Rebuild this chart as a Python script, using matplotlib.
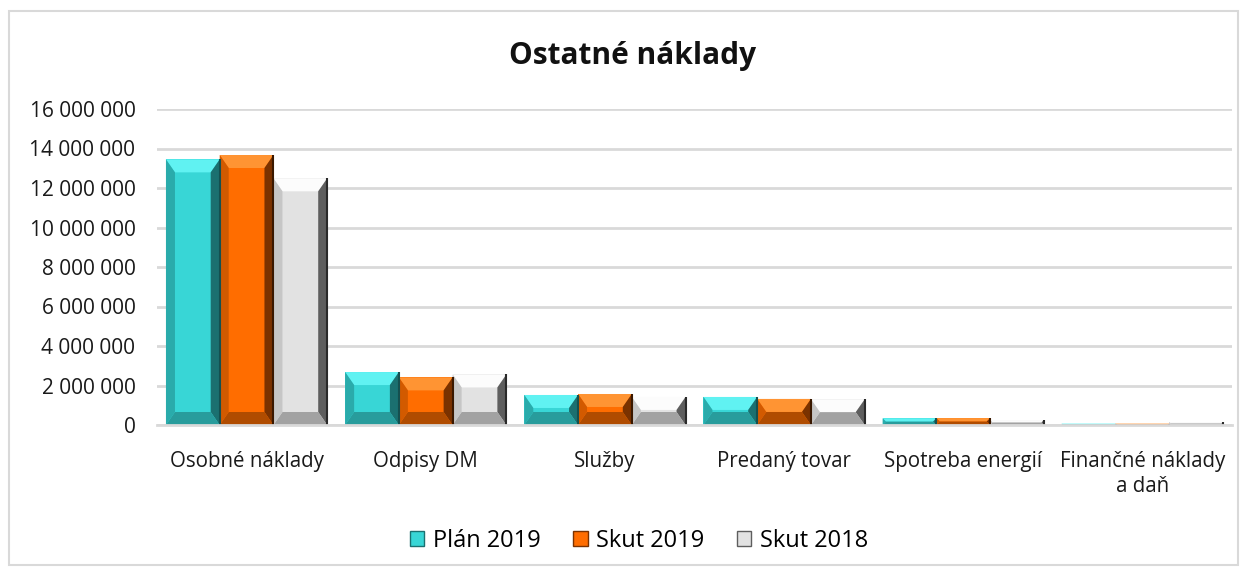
import matplotlib
matplotlib.use("Agg")
import matplotlib.pyplot as plt
import numpy as np
from matplotlib.patches import Polygon, Patch, Rectangle
from matplotlib.ticker import FuncFormatter

plt.rcParams['font.family'] = ['Open Sans', 'DejaVu Sans']

categories = ["Osobné náklady", "Odpisy DM", "Služby", "Predaný tovar",
              "Spotreba energií", "Finančné náklady\na daň"]
series_names = ["Plán 2019", "Skut 2019", "Skut 2018"]
plan_2019 = [13450000, 2680000, 1520000, 1420000, 340000, 70000]
skut_2019 = [13670000, 2410000, 1570000, 1320000, 350000, 70000]
skut_2018 = [12490000, 2560000, 1420000, 1300000, 250000, 150000]
yticks = [0, 2000000, 4000000, 6000000, 8000000, 10000000, 12000000, 14000000, 16000000]

base_colors = ["#38D6D6", "#FF6D00", "#E2E2E2"]
top_colors = ["#60F2F2", "#FF9433", "#FCFCFC"]
left_colors = ["#2AABAB", "#D25A00", "#C6C6C6"]
right_colors = ["#1B7070", "#7A3200", "#5E5E5E"]
bottom_colors = ["#289C9C", "#B04C00", "#A2A2A2"]
edge_colors = ["#145050", "#3A1800", "#2A2A2A"]

W, H = 1247, 574
fig = plt.figure(figsize=(W / 100, H / 100), dpi=100)
ax_l, ax_r, ax_t, ax_b = 157, 1232, 109, 425
ax = fig.add_axes([ax_l / W, 1 - ax_b / H, (ax_r - ax_l) / W, (ax_b - ax_t) / H])

x = np.arange(len(categories))
bw = 0.30
all_series = [plan_2019, skut_2019, skut_2018]
ymax = 16000000
xlim = (-0.5, len(categories) - 0.5)
ax.set_xlim(*xlim)
ax.set_ylim(0, ymax)

# bevel size (pixels) converted to data units
bev_x_px, bev_y_px = 9.0, 13.0
ex_unit = (xlim[1] - xlim[0]) / (ax_r - ax_l)
ey_unit = ymax / (ax_b - ax_t)

for i, vals in enumerate(all_series):
    b = ax.bar(x + (i - 1) * bw, vals, width=bw, color=base_colors[i], zorder=3,
               linewidth=0)
    for rect in b:
        x0 = rect.get_x()
        x1 = x0 + rect.get_width()
        y0 = 0
        y1 = rect.get_height()
        h_px = y1 / ey_unit
        eyp = min(bev_y_px, h_px / 2)
        exp_ = min(bev_x_px, h_px / 2)
        if eyp <= 0.3:
            continue
        ex = exp_ * ex_unit
        ey = eyp * ey_unit
        polys = [
            ([(x0, y1), (x1, y1), (x1 - ex, y1 - ey), (x0 + ex, y1 - ey)], top_colors[i]),
            ([(x1, y1), (x1, y0), (x1 - ex, y0 + ey), (x1 - ex, y1 - ey)], right_colors[i]),
            ([(x0, y0), (x1, y0), (x1 - ex, y0 + ey), (x0 + ex, y0 + ey)], bottom_colors[i]),
            ([(x0, y0), (x0, y1), (x0 + ex, y1 - ey), (x0 + ex, y0 + ey)], left_colors[i]),
        ]
        for pts, c in polys:
            ax.add_patch(Polygon(pts, closed=True, facecolor=c, edgecolor='none',
                                 zorder=4))
        # thin dark edge on the right side
        ax.plot([x1, x1], [y0, y1], color=edge_colors[i], linewidth=1.5, zorder=5,
                solid_capstyle='butt')

ax.set_yticks(yticks)
ax.yaxis.set_major_formatter(FuncFormatter(lambda v, p: f"{int(v):,}".replace(",", " ")))
ax.grid(axis='y', color="#D9D9D9", linewidth=2, zorder=0)
ax.set_axisbelow(True)
for s in ["top", "right", "left"]:
    ax.spines[s].set_visible(False)
ax.spines["bottom"].set_color("#D9D9D9")
ax.spines["bottom"].set_linewidth(2)
ax.spines["bottom"].set_zorder(6)
ax.set_xticks(x)
ax.set_xticklabels(categories, fontsize=14.8, color="#1a1a1a", linespacing=1.25, va='top')
ax.tick_params(axis='x', length=0, pad=19)
ax.tick_params(axis='y', length=0, pad=15.5, labelsize=15, labelcolor="#1a1a1a")

fig.text(633 / W, 1 - 56 / H, "Ostatné náklady", ha='center', va='center',
         fontsize=21.5, fontweight='bold', color="#111111")

handles = [Patch(facecolor=base_colors[i], edgecolor=right_colors[i], linewidth=1.0)
           for i in range(3)]
fig.legend(handles, series_names, loc='center', bbox_to_anchor=(639 / W, 1 - 541 / H),
           ncol=3, frameon=False, fontsize=17, handlelength=0.6, handleheight=0.6,
           handletextpad=0.35, columnspacing=1.4)

fig.patches.append(Rectangle((9 / W, 1 - 565 / H), (1238 - 9) / W, (565 - 11) / H,
                             transform=fig.transFigure, fill=False, edgecolor="#D9D9D9",
                             linewidth=1.5, figure=fig))

fig.savefig("out.png", dpi=100)
